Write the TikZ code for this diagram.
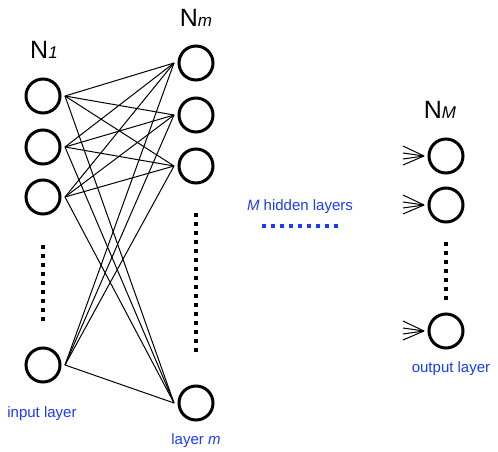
\documentclass[tikz,border=0pt]{standalone}
\usepackage{fontspec}
\setmainfont{Liberation Sans}
\usepackage{tikz}
\usetikzlibrary{positioning}

\definecolor{layerblue}{RGB}{25,60,250}
\tikzset{
  neuron/.style = {draw, shape = circle, line width = 3pt, minimum size = 34pt, inner sep = 0pt, outer sep = 5pt},
  link/.style = {line width = 1pt},
  vdots/.style = {line width = 4pt, dash pattern = on 4pt off 5pt},
  layername/.style = {anchor = base, font = \fontsize{25}{25}\selectfont},
  layertext/.style = {anchor = base, text = layerblue, font = \fontsize{15}{15}\selectfont}
}
\newcommand{\nlabel}[1]{N{\fontsize{17}{17}\selectfont\itshape #1}}

\begin{document}
\begin{tikzpicture}[x = 1pt, y = -1pt]
\useasboundingbox (0,0) rectangle (498,452);
\foreach \i/\y in {1/96, 2/147, 3/197, 4/365}
  \node[neuron] (in\i) at (43,\y) {};
\foreach \j/\y in {1/63, 2/115, 3/166, 4/403}
  \node[neuron] (hid\j) at (196,\y) {};
\foreach \k/\y in {1/156, 2/205, 3/331}
  \node[neuron] (out\k) at (446,\y) {};
\foreach \i in {1,...,4}
  \foreach \j in {1,...,4}
    \draw[link] (in\i.east) -- (hid\j.west);
\foreach \k in {1,2,3}
  \foreach \d [count = \n] in {10,3,-3,-9} {
    \coordinate[left = 21pt of out\k.west, yshift = \d pt] (fan\k\n);
    \draw[link] (fan\k\n) -- (out\k.west);
  }
\node[layername] (n1) at (44,59) {\nlabel{1}};
\node[layername] (nm) at (196,27) {\nlabel{m}};
\node[layername] (nM) at (440,118) {\nlabel{M}};
\draw[vdots] (43,245) -- (43,321);
\draw[vdots] (196,213) -- (196,353);
\draw[vdots] (446,242) -- (446,300);
\draw[vdots, layerblue] (262,226) -- (338,226);
\node[layertext] (inlab) at (42,417) {input layer};
\node[layertext] (hidlab) at (196,444) {layer \textit{m}};
\node[layertext] (midlab) at (300,210) {\textit{M} hidden layers};
\node[layertext] (outlab) at (451,372) {output layer};
\end{tikzpicture}
\end{document}
